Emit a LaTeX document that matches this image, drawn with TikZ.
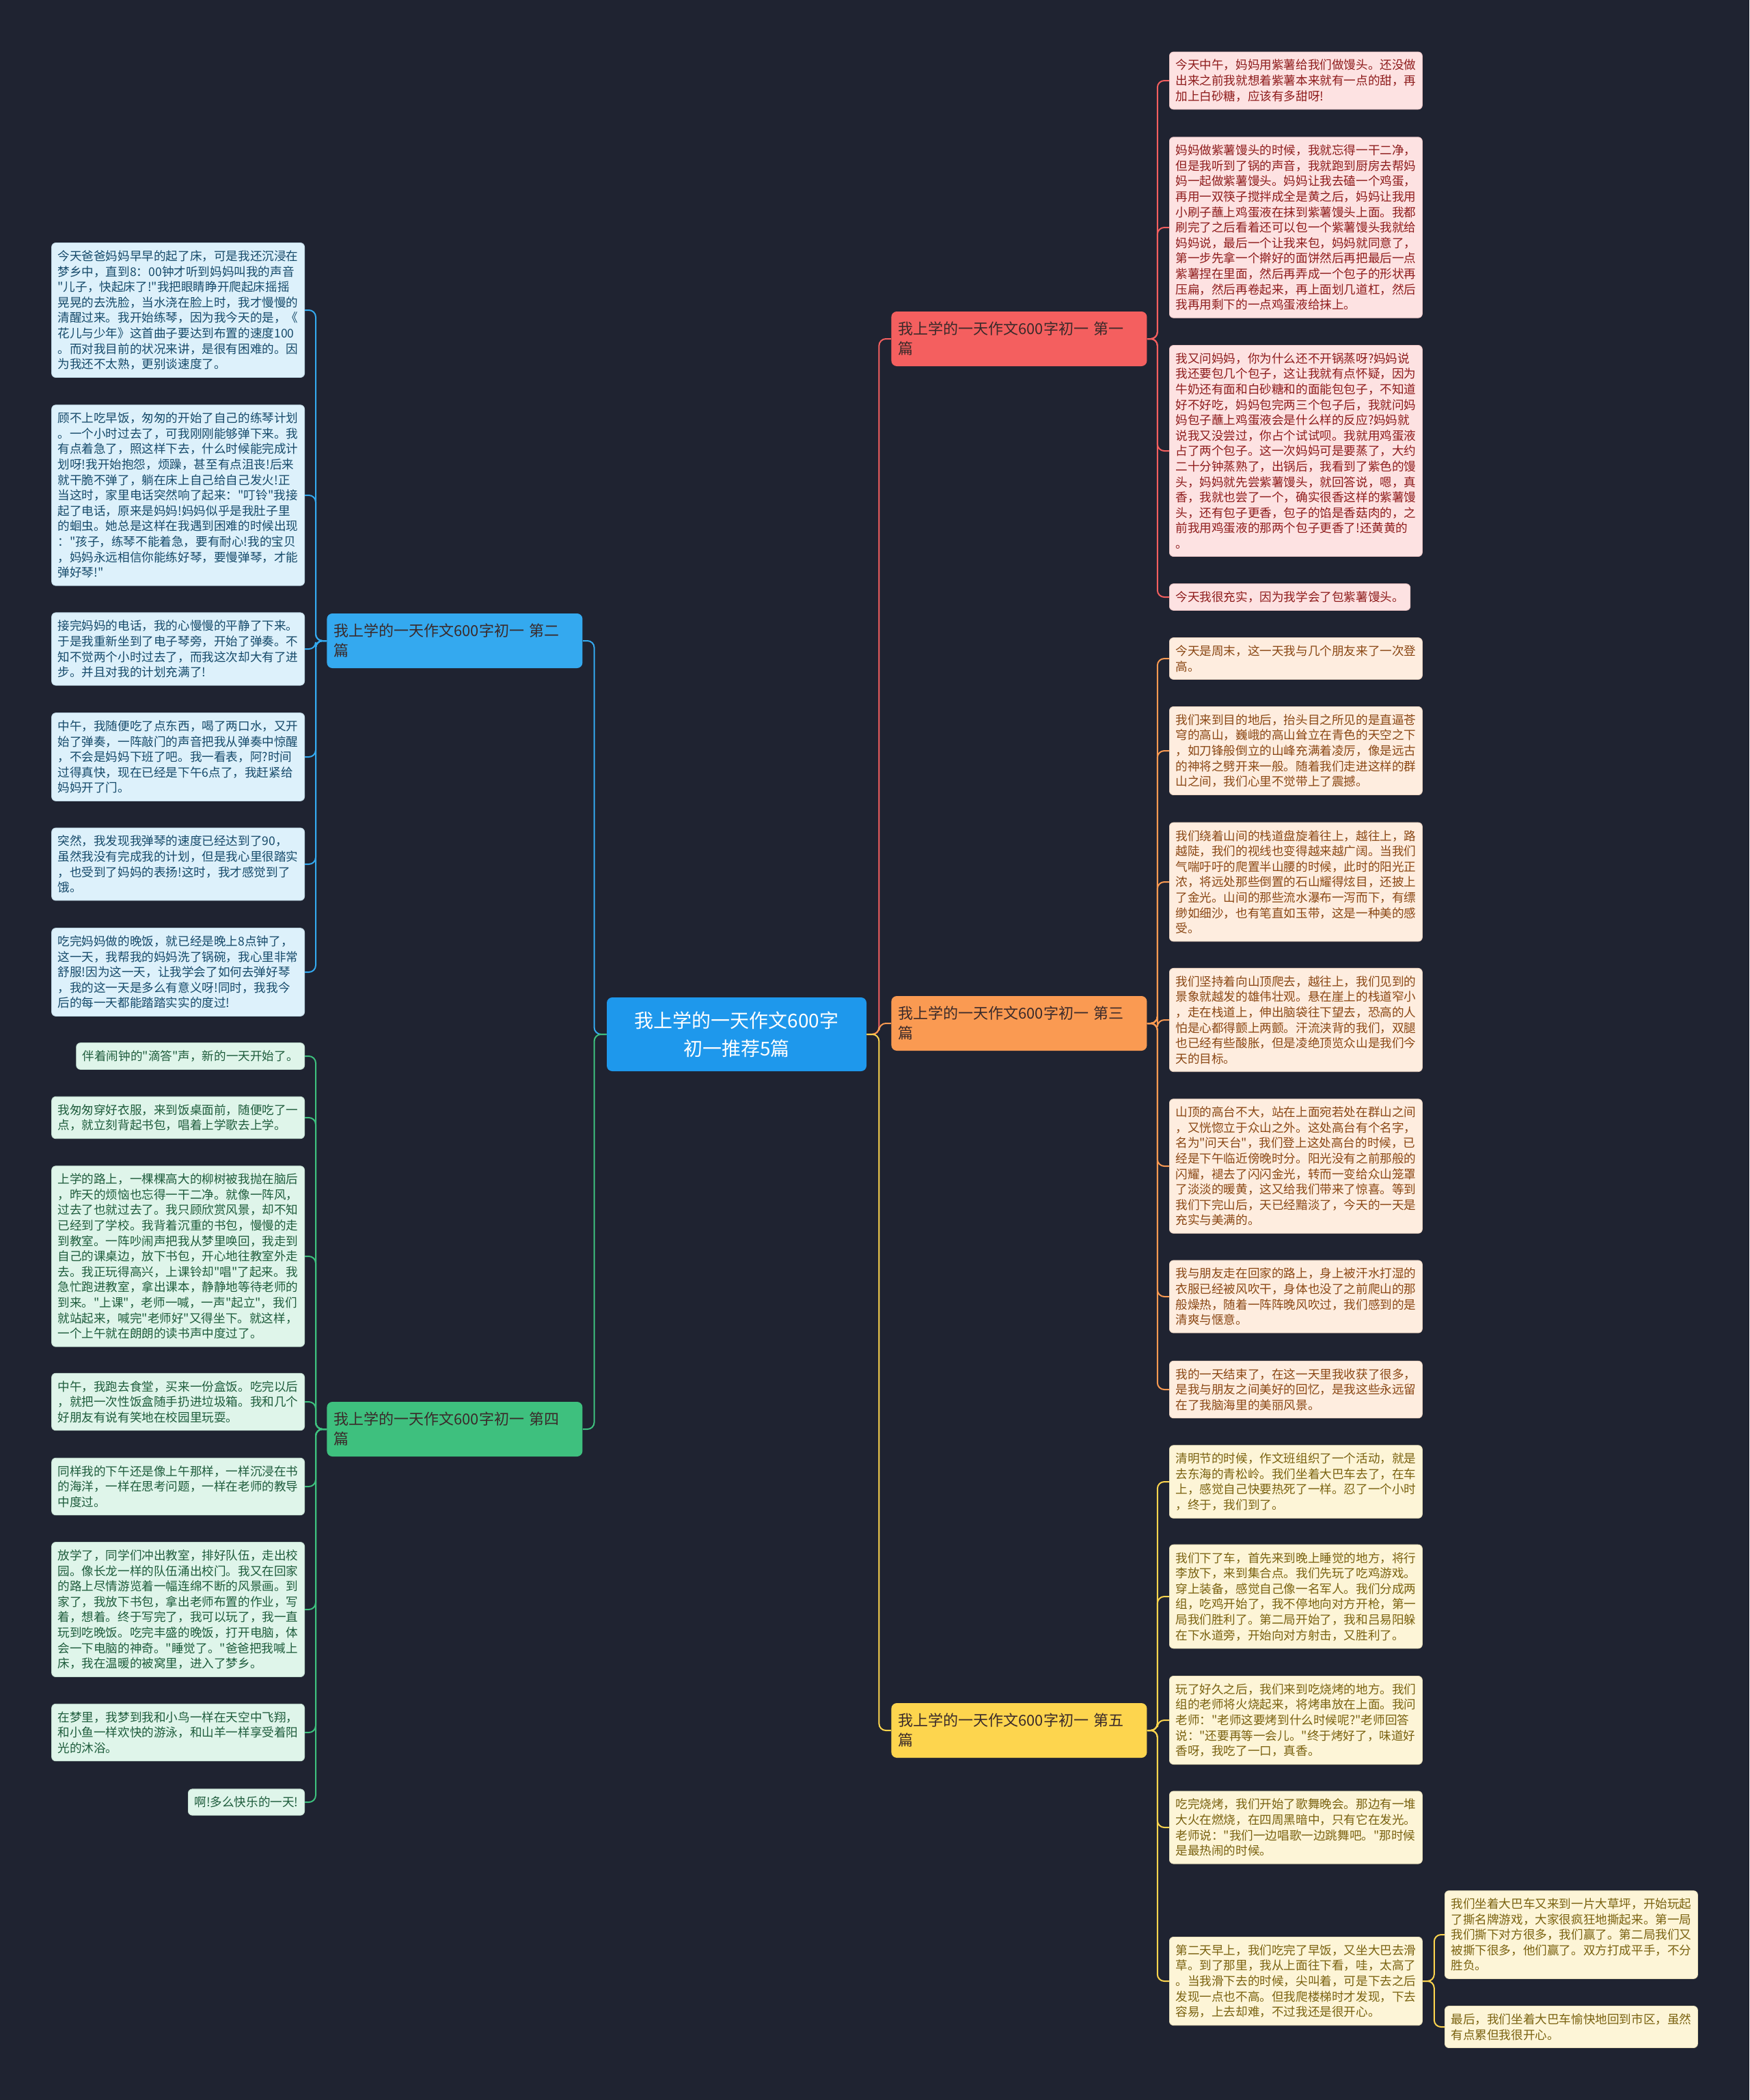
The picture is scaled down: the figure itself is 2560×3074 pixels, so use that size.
\documentclass[tikz,border=0pt]{standalone}
\usepackage{fontspec}
\usepackage{xcolor}
\usepackage{tikz}
\newfontfamily\cjk{Noto Sans CJK SC}
\definecolor{bgColor}{HTML}{1F2331}
\definecolor{rootColor}{HTML}{1E98EC}
\definecolor{redColor}{HTML}{F45F5F}
\definecolor{orangeColor}{HTML}{FA9A52}
\definecolor{yellowColor}{HTML}{FDD54E}
\definecolor{blueColor}{HTML}{34A9EF}
\definecolor{greenColor}{HTML}{3EC07E}
\definecolor{branchText}{HTML}{3A2A2A}
\definecolor{redFill}{HTML}{FDE2E2}
\definecolor{redText}{HTML}{8E1C1C}
\definecolor{orangeFill}{HTML}{FEEDDF}
\definecolor{orangeText}{HTML}{8A4714}
\definecolor{yellowFill}{HTML}{FDF5D7}
\definecolor{yellowText}{HTML}{7A6210}
\definecolor{blueFill}{HTML}{DDF1FB}
\definecolor{blueText}{HTML}{164A6A}
\definecolor{greenFill}{HTML}{DFF5EA}
\definecolor{greenText}{HTML}{1E5C3C}
\tikzset{
  leafbox/.style={rounded corners=3pt, inner xsep=4.5pt, inner ysep=5.5pt, align=left,
    line width=0.4pt, font=\cjk\fontsize{8.8}{11.3}\selectfont},
  leafpara/.style={leafbox, text width=176pt},
  leafred/.style={fill=redFill, draw=redFill!85!redText, text=redText},
  leaforange/.style={fill=orangeFill, draw=orangeFill!85!orangeText, text=orangeText},
  leafyellow/.style={fill=yellowFill, draw=yellowFill!85!yellowText, text=yellowText},
  leafblue/.style={fill=blueFill, draw=blueFill!85!blueText, text=blueText},
  leafgreen/.style={fill=greenFill, draw=greenFill!85!greenText, text=greenText},
  branch/.style={rounded corners=4pt, inner xsep=5pt, text width=177pt, minimum height=40pt,
    align=left, text=branchText, font=\cjk\fontsize{11}{14.5}\selectfont},
  link/.style={line width=1pt, rounded corners=5pt},
}
\begin{document}
\begin{tikzpicture}[x=0.5pt, y=-0.5pt]
    \fill[bgColor] (0,0) rectangle (2560,3074);
    \useasboundingbox (0,0) rectangle (2560,3074);

    % root and branches
    \node[fill=rootColor, rounded corners=4pt, minimum width=190pt, minimum height=54pt, align=center,
        text=white, font=\cjk\fontsize{14}{20.5}\selectfont] (root) at (1078,1514)
        {我上学的一天作文600字\\初一推荐5篇};
    \node[branch, fill=redColor, anchor=west] (b1) at (1304,496) {我上学的一天作文600字初一 第一\\篇};
    \node[branch, fill=orangeColor, anchor=west] (b3) at (1304,1498) {我上学的一天作文600字初一 第三\\篇};
    \node[branch, fill=yellowColor, anchor=west] (b5) at (1304,2533) {我上学的一天作文600字初一 第五\\篇};
    \node[branch, fill=blueColor, anchor=west] (b2) at (478,938) {我上学的一天作文600字初一 第二\\篇};
    \node[branch, fill=greenColor, anchor=west] (b4) at (478,2092) {我上学的一天作文600字初一 第四\\篇};

    % first
    \node[leafpara, leafred, anchor=west] (l1a) at (1711,118) {今天中午，妈妈用紫薯给我们做馒头。还没做\\出来之前我就想着紫薯本来就有一点的甜，再\\加上白砂糖，应该有多甜呀!};
    \node[leafpara, leafred, anchor=west] (l1b) at (1711,333) {妈妈做紫薯馒头的时候，我就忘得一干二净，\\但是我听到了锅的声音，我就跑到厨房去帮妈\\妈一起做紫薯馒头。妈妈让我去磕一个鸡蛋，\\再用一双筷子搅拌成全是黄之后，妈妈让我用\\小刷子蘸上鸡蛋液在抹到紫薯馒头上面。我都\\刷完了之后看着还可以包一个紫薯馒头我就给\\妈妈说，最后一个让我来包，妈妈就同意了，\\第一步先拿一个擀好的面饼然后再把最后一点\\紫薯捏在里面，然后再弄成一个包子的形状再\\压扁，然后再卷起来，再上面划几道杠，然后\\我再用剩下的一点鸡蛋液给抹上。};
    \node[leafpara, leafred, anchor=west] (l1c) at (1711,660) {我又问妈妈，你为什么还不开锅蒸呀?妈妈说\\我还要包几个包子，这让我就有点怀疑，因为\\牛奶还有面和白砂糖和的面能包包子，不知道\\好不好吃，妈妈包完两三个包子后，我就问妈\\妈包子蘸上鸡蛋液会是什么样的反应?妈妈就\\说我又没尝过，你占个试试呗。我就用鸡蛋液\\占了两个包子。这一次妈妈可是要蒸了，大约\\二十分钟蒸熟了，出锅后，我看到了紫色的馒\\头，妈妈就先尝紫薯馒头，就回答说，嗯，真\\香，我就也尝了一个，确实很香这样的紫薯馒\\头，还有包子更香，包子的馅是香菇肉的，之\\前我用鸡蛋液的那两个包子更香了!还黄黄的\\。};
    \node[leafbox, leafred, anchor=west] (l1d) at (1711,874) {今天我很充实，因为我学会了包紫薯馒头。};

    % third
    \node[leafpara, leaforange, anchor=west] (l3a) at (1711,964) {今天是周末，这一天我与几个朋友来了一次登\\高。};
    \node[leafpara, leaforange, anchor=west] (l3b) at (1711,1099) {我们来到目的地后，抬头目之所见的是直逼苍\\穹的高山，巍峨的高山耸立在青色的天空之下\\，如刀锋般倒立的山峰充满着凌厉，像是远古\\的神将之劈开来一般。随着我们走进这样的群\\山之间，我们心里不觉带上了震撼。};
    \node[leafpara, leaforange, anchor=west] (l3c) at (1711,1291) {我们绕着山间的栈道盘旋着往上，越往上，路\\越陡，我们的视线也变得越来越广阔。当我们\\气喘吁吁的爬置半山腰的时候，此时的阳光正\\浓，将远处那些倒置的石山耀得炫目，还披上\\了金光。山间的那些流水瀑布一泻而下，有缥\\缈如细沙，也有笔直如玉带，这是一种美的感\\受。};
    \node[leafpara, leaforange, anchor=west] (l3d) at (1711,1493) {我们坚持着向山顶爬去，越往上，我们见到的\\景象就越发的雄伟壮观。悬在崖上的栈道窄小\\，走在栈道上，伸出脑袋往下望去，恐高的人\\怕是心都得颤上两颤。汗流浃背的我们，双腿\\也已经有些酸胀，但是凌绝顶览众山是我们今\\天的目标。};
    \node[leafpara, leaforange, anchor=west] (l3e) at (1711,1707) {山顶的高台不大，站在上面宛若处在群山之间\\，又恍惚立于众山之外。这处高台有个名字，\\名为"问天台"，我们登上这处高台的时候，已\\经是下午临近傍晚时分。阳光没有之前那般的\\闪耀，褪去了闪闪金光，转而一变给众山笼罩\\了淡淡的暖黄，这又给我们带来了惊喜。等到\\我们下完山后，天已经黯淡了，今天的一天是\\充实与美满的。};
    \node[leafpara, leaforange, anchor=west] (l3f) at (1711,1898) {我与朋友走在回家的路上，身上被汗水打湿的\\衣服已经被风吹干，身体也没了之前爬山的那\\般燥热，随着一阵阵晚风吹过，我们感到的是\\清爽与惬意。};
    \node[leafpara, leaforange, anchor=west] (l3g) at (1711,2034) {我的一天结束了，在这一天里我收获了很多，\\是我与朋友之间美好的回忆，是我这些永远留\\在了我脑海里的美丽风景。};

    % fifth
    \node[leafpara, leafyellow, anchor=west] (l5a) at (1711,2169) {清明节的时候，作文班组织了一个活动，就是\\去东海的青松岭。我们坐着大巴车去了，在车\\上，感觉自己快要热死了一样。忍了一个小时\\，终于，我们到了。};
    \node[leafpara, leafyellow, anchor=west] (l5b) at (1711,2337) {我们下了车，首先来到晚上睡觉的地方，将行\\李放下，来到集合点。我们先玩了吃鸡游戏。\\穿上装备，感觉自己像一名军人。我们分成两\\组，吃鸡开始了，我不停地向对方开枪，第一\\局我们胜利了。第二局开始了，我和吕易阳躲\\在下水道旁，开始向对方射击，又胜利了。};
    \node[leafpara, leafyellow, anchor=west] (l5c) at (1711,2518) {玩了好久之后，我们来到吃烧烤的地方。我们\\组的老师将火烧起来，将烤串放在上面。我问\\老师："老师这要烤到什么时候呢?"老师回答\\说："还要再等一会儿。"终于烤好了，味道好\\香呀，我吃了一口，真香。};
    \node[leafpara, leafyellow, anchor=west] (l5d) at (1711,2675) {吃完烧烤，我们开始了歌舞晚会。那边有一堆\\大火在燃烧，在四周黑暗中，只有它在发光。\\老师说："我们一边唱歌一边跳舞吧。"那时候\\是最热闹的时候。};
    \node[leafpara, leafyellow, anchor=west] (l5e) at (1711,2900) {第二天早上，我们吃完了早饭，又坐大巴去滑\\草。到了那里，我从上面往下看，哇，太高了\\。当我滑下去的时候，尖叫着，可是下去之后\\发现一点也不高。但我爬楼梯时才发现，下去\\容易，上去却难，不过我还是很开心。};
    \node[leafpara, leafyellow, anchor=west] (l5f) at (2114,2832) {我们坐着大巴车又来到一片大草坪，开始玩起\\了撕名牌游戏，大家很疯狂地撕起来。第一局\\我们撕下对方很多，我们赢了。第二局我们又\\被撕下很多，他们赢了。双方打成平手，不分\\胜负。};
    \node[leafpara, leafyellow, anchor=west] (l5g) at (2114,2967) {最后，我们坐着大巴车愉快地回到市区，虽然\\有点累但我很开心。};

    % second
    \node[leafpara, leafblue, anchor=east] (l2a) at (446,454) {今天爸爸妈妈早早的起了床，可是我还沉浸在\\梦乡中，直到8：00钟才听到妈妈叫我的声音\\"儿子，快起床了!"我把眼睛睁开爬起床摇摇\\晃晃的去洗脸，当水浇在脸上时，我才慢慢的\\清醒过来。我开始练琴，因为我今天的是，《\\花儿与少年》这首曲子要达到布置的速度100\\。而对我目前的状况来讲，是很有困难的。因\\为我还不太熟，更别谈速度了。};
    \node[leafpara, leafblue, anchor=east] (l2b) at (446,725) {顾不上吃早饭，匆匆的开始了自己的练琴计划\\。一个小时过去了，可我刚刚能够弹下来。我\\有点着急了，照这样下去，什么时候能完成计\\划呀!我开始抱怨，烦躁，甚至有点沮丧!后来\\就干脆不弹了，躺在床上自己给自己发火!正\\当这时，家里电话突然响了起来："叮铃"我接\\起了电话，原来是妈妈!妈妈似乎是我肚子里\\的蛔虫。她总是这样在我遇到困难的时候出现\\："孩子，练琴不能着急，要有耐心!我的宝贝\\，妈妈永远相信你能练好琴，要慢弹琴，才能\\弹好琴!"};
    \node[leafpara, leafblue, anchor=east] (l2c) at (446,950) {接完妈妈的电话，我的心慢慢的平静了下来。\\于是我重新坐到了电子琴旁，开始了弹奏。不\\知不觉两个小时过去了，而我这次却大有了进\\步。并且对我的计划充满了!};
    \node[leafpara, leafblue, anchor=east] (l2d) at (446,1108) {中午，我随便吃了点东西，喝了两口水，又开\\始了弹奏，一阵敲门的声音把我从弹奏中惊醒\\，不会是妈妈下班了吧。我一看表，阿?时间\\过得真快，现在已经是下午6点了，我赶紧给\\妈妈开了门。};
    \node[leafpara, leafblue, anchor=east] (l2e) at (446,1265) {突然，我发现我弹琴的速度已经达到了90，\\虽然我没有完成我的计划，但是我心里很踏实\\，也受到了妈妈的表扬!这时，我才感觉到了\\饿。};
    \node[leafpara, leafblue, anchor=east] (l2f) at (446,1423) {吃完妈妈做的晚饭，就已经是晚上8点钟了，\\这一天，我帮我的妈妈洗了锅碗，我心里非常\\舒服!因为这一天，让我学会了如何去弹好琴\\，我的这一天是多么有意义呀!同时，我我今\\后的每一天都能踏踏实实的度过!};

    % fourth
    \node[leafbox, leafgreen, anchor=east] (l4a) at (446,1546) {伴着闹钟的"滴答"声，新的一天开始了。};
    \node[leafpara, leafgreen, anchor=east] (l4b) at (446,1636) {我匆匆穿好衣服，来到饭桌面前，随便吃了一\\点，就立刻背起书包，唱着上学歌去上学。};
    \node[leafpara, leafgreen, anchor=east] (l4c) at (446,1839) {上学的路上，一棵棵高大的柳树被我抛在脑后\\，昨天的烦恼也忘得一干二净。就像一阵风，\\过去了也就过去了。我只顾欣赏风景，却不知\\已经到了学校。我背着沉重的书包，慢慢的走\\到教室。一阵吵闹声把我从梦里唤回，我走到\\自己的课桌边，放下书包，开心地往教室外走\\去。我正玩得高兴，上课铃却"唱"了起来。我\\急忙跑进教室，拿出课本，静静地等待老师的\\到来。"上课"，老师一喊，一声"起立"，我们\\就站起来，喊完"老师好"又得坐下。就这样，\\一个上午就在朗朗的读书声中度过了。};
    \node[leafpara, leafgreen, anchor=east] (l4d) at (446,2052) {中午，我跑去食堂，买来一份盒饭。吃完以后\\，就把一次性饭盒随手扔进垃圾箱。我和几个\\好朋友有说有笑地在校园里玩耍。};
    \node[leafpara, leafgreen, anchor=east] (l4e) at (446,2176) {同样我的下午还是像上午那样，一样沉浸在书\\的海洋，一样在思考问题，一样在老师的教导\\中度过。};
    \node[leafpara, leafgreen, anchor=east] (l4f) at (446,2356) {放学了，同学们冲出教室，排好队伍，走出校\\园。像长龙一样的队伍涌出校门。我又在回家\\的路上尽情游览着一幅连绵不断的风景画。到\\家了，我放下书包，拿出老师布置的作业，写\\着，想着。终于写完了，我可以玩了，我一直\\玩到吃晚饭。吃完丰盛的晚饭，打开电脑，体\\会一下电脑的神奇。"睡觉了。"爸爸把我喊上\\床，我在温暖的被窝里，进入了梦乡。};
    \node[leafpara, leafgreen, anchor=east] (l4g) at (446,2536) {在梦里，我梦到我和小鸟一样在天空中飞翔，\\和小鱼一样欢快的游泳，和山羊一样享受着阳\\光的沐浴。};
    \node[leafbox, leafgreen, anchor=east] (l4h) at (446,2638) {啊!多么快乐的一天!};

    % links
    \draw[link, redColor] (root.east) -- ++(18,0) |- (b1.west);
    \draw[link, orangeColor] (root.east) -- ++(18,0) |- (b3.west);
    \draw[link, yellowColor] (root.east) -- ++(18,0) |- (b5.west);
    \draw[link, blueColor] (root.west) -- ++(-18,0) |- (b2.east);
    \draw[link, greenColor] (root.west) -- ++(-18,0) |- (b4.east);
    \foreach \n in {l1a,l1b,l1c,l1d}
        \draw[link, redColor] (b1.east) -- ++(15,0) |- (\n.west);
    \foreach \n in {l3a,l3b,l3c,l3d,l3e,l3f,l3g}
        \draw[link, orangeColor] (b3.east) -- ++(15,0) |- (\n.west);
    \foreach \n in {l5a,l5b,l5c,l5d,l5e}
        \draw[link, yellowColor] (b5.east) -- ++(15,0) |- (\n.west);
    \foreach \n in {l5f,l5g}
        \draw[link, yellowColor] (l5e.east) -- ++(17,0) |- (\n.west);
    \foreach \n in {l2a,l2b,l2c,l2d,l2e,l2f}
        \draw[link, blueColor] (b2.west) -- ++(-16,0) |- (\n.east);
    \foreach \n in {l4a,l4b,l4c,l4d,l4e,l4f,l4g,l4h}
        \draw[link, greenColor] (b4.west) -- ++(-16,0) |- (\n.east);
\end{tikzpicture}
\end{document}
